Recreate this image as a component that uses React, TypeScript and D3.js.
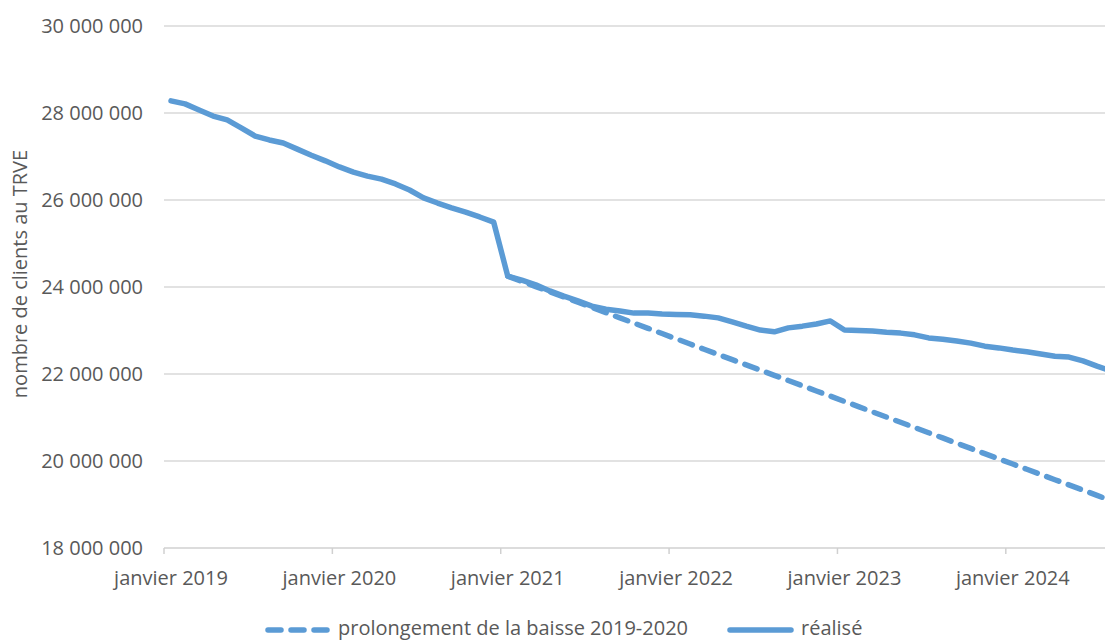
import * as d3 from "d3";

// monthly values, janvier 2019 -> août 2024 (millions of clients)
const realise = [
  28.28, 28.21, 28.07, 27.93, 27.84, 27.66, 27.47, 27.38, 27.31, 27.17, 27.03, 26.9,
  26.76, 26.64, 26.55, 26.48, 26.37, 26.23, 26.05, 25.93, 25.82, 25.72, 25.61, 25.49,
  24.25, 24.16, 24.05, 23.91, 23.79, 23.68, 23.56, 23.49, 23.45, 23.4, 23.4, 23.38,
  23.37, 23.36, 23.33, 23.29, 23.2, 23.1, 23.01, 22.97, 23.06, 23.1, 23.15, 23.22,
  23.01, 23.0, 22.99, 22.96, 22.94, 22.9, 22.83, 22.8, 22.76, 22.71, 22.64, 22.6,
  22.55, 22.51, 22.46, 22.41, 22.39, 22.3, 22.18, 22.07,
];

// dashed projection, starts janvier 2021
const prolongementStart = 24;
const prolongement = [
  24.25, 24.13, 24.01, 23.89, 23.77, 23.65, 23.53, 23.41, 23.29, 23.17, 23.05, 22.93,
  22.81, 22.69, 22.57, 22.45, 22.33, 22.21, 22.09, 21.97, 21.85, 21.73, 21.61, 21.49,
  21.37, 21.25, 21.13, 21.01, 20.89, 20.77, 20.65, 20.53, 20.41, 20.29, 20.17, 20.05,
  19.93, 19.81, 19.69, 19.57, 19.45, 19.33, 19.21, 19.09,
];

const yearLabels = [
  "janvier 2019",
  "janvier 2020",
  "janvier 2021",
  "janvier 2022",
  "janvier 2023",
  "janvier 2024",
];
const yTicks = [18e6, 20e6, 22e6, 24e6, 26e6, 28e6, 30e6];

const months = d3.range(realise.length);

const W = 1105;
const H = 641;
const BLUE = "#5B9BD5";
const TEXT = "#595959";
const FONT = "'Open Sans', 'Noto Sans', sans-serif";

const fr = d3.formatLocale({
  decimal: ",",
  thousands: " ",
  grouping: [3],
  currency: ["", " €"],
});
const fmt = fr.format(",d");

export default function App() {
  const x = d3
    .scaleBand<number>()
    .domain(months)
    .range([164, 164 + 14.03 * months.length]);
  const cx = (i: number) => (x(i) ?? 0) + x.bandwidth() / 2;

  const y = d3.scaleLinear().domain([18e6, 30e6]).range([548, 26]);

  const line = d3
    .line<[number, number]>()
    .x((d) => cx(d[0]))
    .y((d) => y(d[1] * 1e6));

  const solidPts = realise.map((v, i) => [i, v] as [number, number]);
  const dashPts = prolongement.map(
    (v, i) => [i + prolongementStart, v] as [number, number]
  );

  const x0 = x.range()[0];
  const x1 = x.range()[1];

  return (
    <svg
      width={W}
      height={H}
      style={{ position: "absolute", left: 0, top: 0, background: "#fff" }}
      fontFamily={FONT}
    >
      {/* gridlines */}
      {yTicks.slice(1).map((t) => (
        <line key={t} x1={x0} x2={x1} y1={y(t)} y2={y(t)} stroke="#D9D9D9" strokeWidth={1.5} />
      ))}
      {/* x axis */}
      <line x1={x0} x2={x1} y1={y(18e6)} y2={y(18e6)} stroke="#D0D0D0" strokeWidth={1.5} />
      {yearLabels.map((lab, k) => {
        const tx = x(k * 12) ?? 0;
        return (
          <g key={lab}>
            <line x1={tx} x2={tx} y1={y(18e6)} y2={y(18e6) + 6} stroke="#D0D0D0" strokeWidth={1.5} />
            <text x={cx(k * 12)} y={585} textAnchor="middle" fontSize={20} fill={TEXT}>
              {lab}
            </text>
          </g>
        );
      })}
      {/* y labels */}
      {yTicks.map((t) => (
        <text key={t} x={143} y={y(t) + 7} textAnchor="end" fontSize={20} fill={TEXT}>
          {fmt(t)}
        </text>
      ))}
      <text
        transform={`translate(27,${274}) rotate(-90)`}
        textAnchor="middle"
        fontSize={20}
        fill={TEXT}
      >
        nombre de clients au TRVE
      </text>

      {/* series */}
      <path
        d={line(dashPts) ?? ""}
        fill="none"
        stroke={BLUE}
        strokeWidth={5.5}
        strokeDasharray="13 10"
        strokeLinecap="round"
      />
      <path
        d={line(solidPts) ?? ""}
        fill="none"
        stroke={BLUE}
        strokeWidth={5.5}
        strokeLinejoin="round"
        strokeLinecap="round"
      />

      {/* legend */}
      <line
        x1={268}
        x2={328}
        y1={630}
        y2={630}
        stroke={BLUE}
        strokeWidth={5.5}
        strokeDasharray="13 10"
        strokeLinecap="round"
      />
      <text x={338} y={635} fontSize={20} fill={TEXT}>
        prolongement de la baisse 2019-2020
      </text>
      <line x1={730} x2={791} y1={630} y2={630} stroke={BLUE} strokeWidth={5.5} strokeLinecap="round" />
      <text x={801} y={635} fontSize={20} fill={TEXT}>
        réalisé
      </text>
    </svg>
  );
}
